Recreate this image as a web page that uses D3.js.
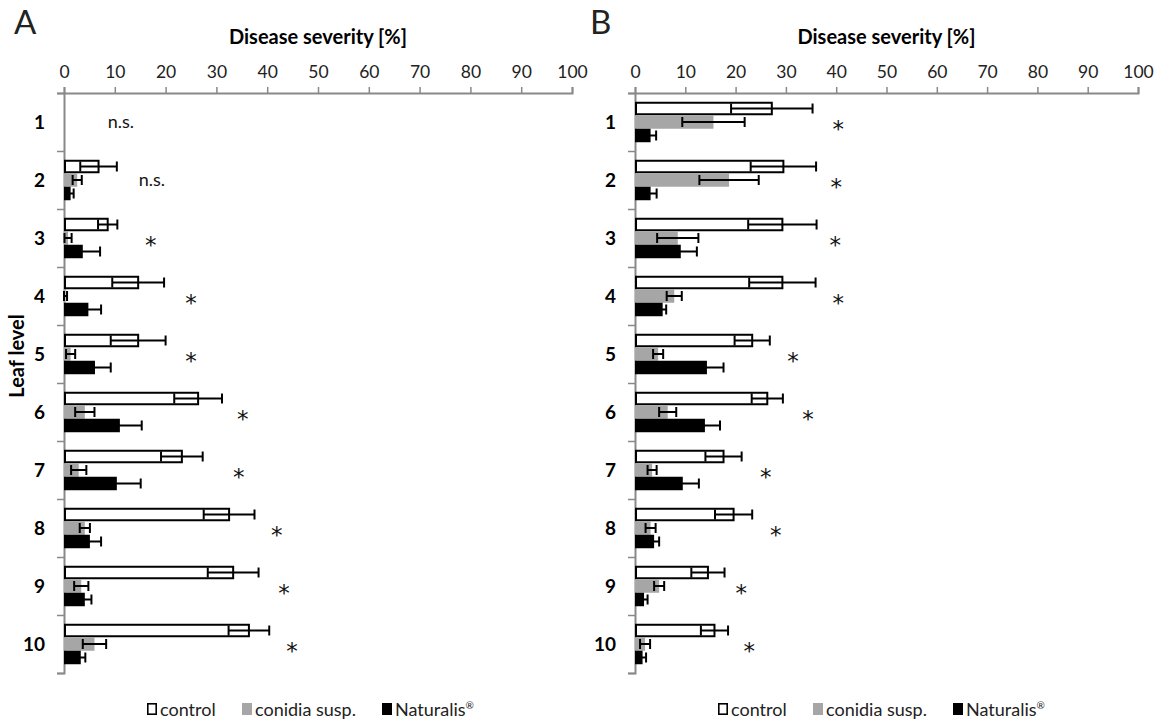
<!DOCTYPE html>
<html>
<head>
<meta charset="utf-8">
<script src="https://cdn.jsdelivr.net/npm/d3@7"></script>
<style>
  body { margin: 0; background: #fff; }
  svg { font-family: Lato, "Open Sans", sans-serif; }
  .sig { opacity: 0.99; }
</style>
</head>
<body>
<svg id="chart" width="1166" height="721"></svg>
<script>
// leaf levels and tick labels
const levels = ["1", "2", "3", "4", "5", "6", "7", "8", "9", "10"];
const xTicks = [0, 10, 20, 30, 40, 50, 60, 70, 80, 90, 100];
const seriesNames = ["control", "conidia susp.", "Naturalis"];

// panel A: means and error (SD) per leaf level, null = no bar
const controlA = [null, 6.8, 8.6, 14.6, 14.6, 26.4, 23.2, 32.5, 33.3, 36.4];
const controlErrA = [null, 3.6, 1.9, 5.1, 5.4, 4.7, 4.1, 5.0, 5.0, 4.0];
const conidiaA = [null, 2.6, 0.8, 0.2, 1.3, 4.1, 2.9, 4.1, 3.4, 6.0];
const conidiaErrA = [null, 0.9, 0.7, 0.4, 0.9, 1.9, 1.5, 1.0, 1.4, 2.3];
const naturalisA = [null, 1.3, 3.7, 4.8, 6.1, 11.0, 10.4, 5.1, 4.1, 3.3];
const naturalisErrA = [null, 0.6, 3.4, 2.5, 3.1, 4.3, 4.7, 2.2, 1.3, 0.9];
const signifA = ["n.s.", "n.s.", "*", "*", "*", "*", "*", "*", "*", "*"];
const signifPosA = [11.2, 17.3, 17.1, 25.0, 25.0, 35.2, 34.4, 41.9, 43.3, 44.9];

// panel B
const controlB = [27.2, 29.5, 29.3, 29.3, 23.3, 26.3, 17.6, 19.6, 14.5, 15.8];
const controlErrB = [8.1, 6.5, 6.8, 6.6, 3.5, 3.1, 3.6, 3.7, 3.3, 2.7];
const conidiaB = [15.6, 18.7, 8.5, 7.8, 4.6, 6.5, 3.4, 3.1, 4.8, 2.0];
const conidiaErrB = [6.2, 5.9, 4.1, 1.5, 1.0, 1.7, 0.9, 1.0, 1.0, 1.0];
const naturalisB = [3.1, 3.1, 9.1, 5.5, 14.3, 13.9, 9.5, 3.8, 1.8, 1.5];
const naturalisErrB = [1.1, 1.2, 3.2, 0.7, 3.3, 3.0, 3.2, 1.0, 0.7, 0.7];
const signifB = ["*", "*", "*", "*", "*", "*", "*", "*", "*", "*"];
const signifPosB = [40.4, 40.0, 39.8, 40.4, 31.4, 34.4, 26.0, 28.0, 21.1, 22.7];

const fills = ["#ffffff", "#a6a6a6", "#000000"];
const axisColor = "#898989";

const svg = d3.select("#chart");

function panel(opts) {
    const g = svg.append("g");
    const top = 93, bottom = 673;
    const x = d3.scaleLinear().domain([0, 100]).range([opts.x0, opts.x1]);
    const y = d3.scaleBand().domain(levels).range([top, bottom])
        .paddingInner(0.302).paddingOuter(0.151);
    const ys = d3.scaleBand().domain(seriesNames).range([0, y.bandwidth()]);

    // panel letter
    g.append("text").attr("x", opts.letterX).attr("y", 34)
        .attr("font-size", 33).attr("fill", "#222").text(opts.letter);

    // title
    g.append("text").attr("x", (opts.x0 + opts.x1) / 2).attr("y", 44)
        .attr("text-anchor", "middle").attr("font-size", 20).attr("font-weight", "bold")
        .text("Disease severity [%]");

    // x axis at top
    const xAxis = d3.axisTop(x).tickValues(xTicks).tickSize(6).tickPadding(9);
    const gx = g.append("g").attr("transform", `translate(0,${top})`).call(xAxis);
    gx.select(".domain").attr("stroke", axisColor).attr("stroke-width", 2);
    gx.selectAll(".tick line").attr("stroke", axisColor).attr("stroke-width", 1.5);
    gx.selectAll(".tick text").attr("font-size", 17.5).attr("fill", "#222")
        .attr("font-family", "Lato, sans-serif");

    // y axis with ticks on band boundaries
    const yb = d3.scaleLinear().domain([0, levels.length]).range([top, bottom]);
    const yAxis = d3.axisLeft(yb).ticks(levels.length).tickSize(7).tickFormat("").tickSizeOuter(7);
    const gy = g.append("g").attr("transform", `translate(${opts.x0},0)`).call(yAxis);
    gy.select(".domain").attr("stroke", axisColor).attr("stroke-width", 2);
    gy.selectAll(".tick line").attr("stroke", axisColor).attr("stroke-width", 1.5);

    // category labels
    g.selectAll(".cat").data(levels).join("text")
        .attr("x", opts.x0 - 19)
        .attr("y", d => y(d) + y.bandwidth() / 2 + 7)
        .attr("text-anchor", "end").attr("font-size", 19).attr("font-weight", "bold")
        .text(d => d);

    const series = [
        { name: seriesNames[0], vals: opts.control, errs: opts.controlErr, fill: fills[0] },
        { name: seriesNames[1], vals: opts.conidia, errs: opts.conidiaErr, fill: fills[1] },
        { name: seriesNames[2], vals: opts.naturalis, errs: opts.naturalisErr, fill: fills[2] }
    ];

    series.forEach(s => {
        const rows = levels.map((lv, i) => ({ lv, v: s.vals[i], e: s.errs[i] })).filter(d => d.v !== null);
        const sw = s.fill === "#ffffff" ? 2 : 0;
        g.append("g").selectAll("rect").data(rows).join("rect")
            .attr("x", x(0) + sw / 2)
            .attr("y", d => y(d.lv) + ys(s.name) + sw / 2)
            .attr("width", d => Math.max(0, x(d.v) - x(0) - sw / 2))
            .attr("height", ys.bandwidth() - sw)
            .attr("fill", s.fill)
            .attr("stroke", sw ? "#000" : "none")
            .attr("stroke-width", sw);

        // error bars
        const eg = g.append("g").attr("stroke", "#000").attr("stroke-width", 2);
        rows.forEach(d => {
            const cy = y(d.lv) + ys(s.name) + ys.bandwidth() / 2;
            const lo = Math.max(0, d.v - d.e), hi = d.v + d.e;
            eg.append("line").attr("x1", x(lo)).attr("x2", x(hi)).attr("y1", cy).attr("y2", cy);
            [lo, hi].forEach(v => {
                eg.append("line").attr("x1", x(v)).attr("x2", x(v))
                    .attr("y1", cy - 5).attr("y2", cy + 5);
            });
        });
    });

    // significance labels
    g.append("g").attr("class", "sig").selectAll("text").data(levels).join("text")
        .attr("x", (d, i) => x(opts.signifPos[i]))
        .attr("y", (d, i) => y(d) + y.bandwidth() / 2 + (opts.signif[i] === "*" ? 15 : 6))
        .attr("text-anchor", "middle")
        .attr("font-family", (d, i) => opts.signif[i] === "*" ? "DejaVu Sans, sans-serif" : null)
        .attr("font-size", (d, i) => opts.signif[i] === "*" ? 23 : 18)
        .attr("fill", "#111")
        .text((d, i) => opts.signif[i]);

    // legend
    const lx = opts.x0 + 83;
    const legendOffsets = [0, 95, 235];
    const lg = g.append("g").attr("transform", `translate(${lx},709)`);
    seriesNames.forEach((name, i) => {
        const item = lg.append("g").attr("transform", `translate(${legendOffsets[i]},0)`);
        item.append("rect").attr("x", i === 0 ? 0.8 : 0).attr("y", i === 0 ? -5.2 : -6)
            .attr("width", i === 0 ? 8.4 : 10).attr("height", i === 0 ? 10.4 : 12)
            .attr("fill", fills[i]).attr("stroke", i === 0 ? "#000" : "none").attr("stroke-width", 1.6);
        const t = item.append("text").attr("x", 13).attr("y", 6.5).attr("font-size", 18).attr("fill", "#222");
        t.append("tspan").text(name);
        if (i === 2) t.append("tspan").attr("font-size", 10).attr("dy", -7).text("®");
    });
}

panel({
    letter: "A", letterX: 14, x0: 64, x1: 572,
    control: controlA, controlErr: controlErrA,
    conidia: conidiaA, conidiaErr: conidiaErrA,
    naturalis: naturalisA, naturalisErr: naturalisErrA,
    signif: signifA, signifPos: signifPosA
});

panel({
    letter: "B", letterX: 590, x0: 635, x1: 1138,
    control: controlB, controlErr: controlErrB,
    conidia: conidiaB, conidiaErr: conidiaErrB,
    naturalis: naturalisB, naturalisErr: naturalisErrB,
    signif: signifB, signifPos: signifPosB
});

// shared y axis title
svg.append("text")
    .attr("transform", "translate(24,356) rotate(-90)")
    .attr("text-anchor", "middle").attr("font-size", 20).attr("font-weight", "bold")
    .text("Leaf level");
</script>
</body>
</html>
